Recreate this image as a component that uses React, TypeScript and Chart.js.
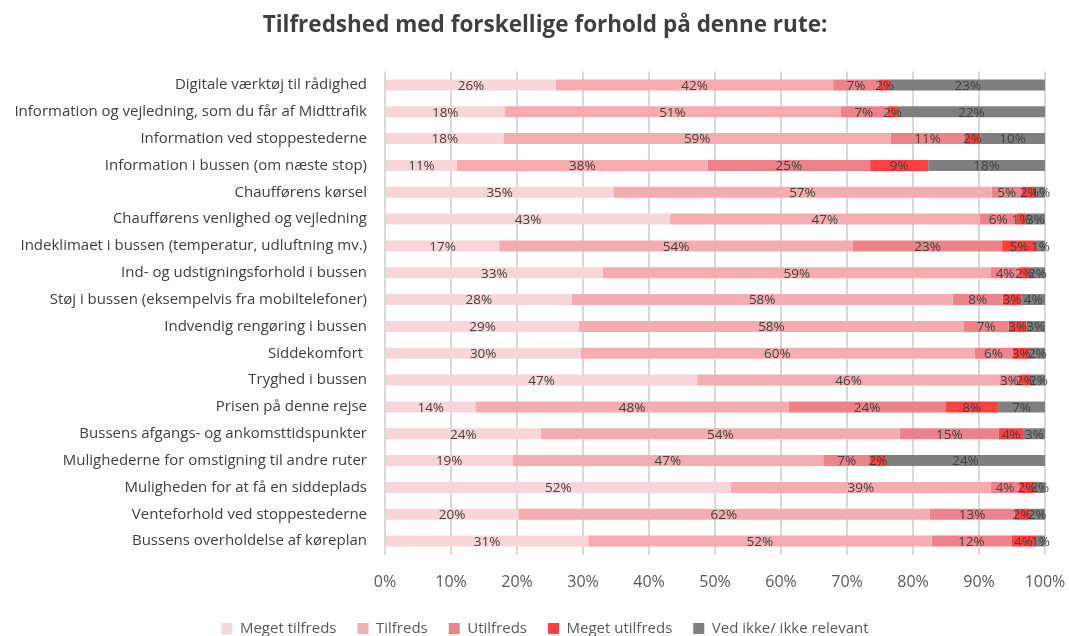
import React, { useEffect, useRef } from "react";
import { Chart, registerables } from "chart.js";

Chart.register(...registerables);

const FONT = '"Open Sans", "Noto Sans", sans-serif';

const titleText = "Tilfredshed med forskellige forhold på denne rute:";

const categories = [
  "Digitale værktøj til rådighed",
  "Information og vejledning, som du får af Midttrafik",
  "Information ved stoppestederne",
  "Information i bussen (om næste stop)",
  "Chaufførens kørsel",
  "Chaufførens venlighed og vejledning",
  "Indeklimaet i bussen (temperatur, udluftning mv.)",
  "Ind- og udstigningsforhold i bussen",
  "Støj i bussen (eksempelvis fra mobiltelefoner)",
  "Indvendig rengøring i bussen",
  "Siddekomfort ",
  "Tryghed i bussen",
  "Prisen på denne rejse",
  "Bussens afgangs- og ankomsttidspunkter",
  "Mulighederne for omstigning til andre ruter",
  "Muligheden for at få en siddeplads",
  "Venteforhold ved stoppestederne",
  "Bussens overholdelse af køreplan",
];

const seriesNames = [
  "Meget tilfreds",
  "Tilfreds",
  "Utilfreds",
  "Meget utilfreds",
  "Ved ikke/ ikke relevant",
];

const seriesColors = ["#F8D5D8", "#F3ADB1", "#EC838A", "#FF4042", "#7F7F7F"];

const megetTilfreds = [25.9, 18.1, 18.0, 10.9, 34.6, 43.2, 17.3, 33.0, 28.3, 29.4, 29.6, 47.3, 13.7, 23.6, 19.3, 52.4, 20.2, 30.8];
const tilfreds = [42.0, 50.9, 58.6, 38.0, 57.3, 46.9, 53.6, 58.8, 57.7, 58.3, 59.7, 45.9, 47.5, 54.4, 47.1, 39.4, 62.3, 52.0];
const utilfreds = [6.9, 7.1, 11.2, 24.6, 4.6, 5.6, 22.6, 4.3, 7.6, 6.8, 5.8, 2.8, 23.7, 15.0, 7.1, 4.3, 12.9, 12.1];
const megetUtilfreds = [1.8, 1.6, 2.4, 8.8, 2.2, 1.4, 5.1, 1.6, 2.8, 2.7, 2.6, 2.0, 8.0, 3.8, 2.4, 2.3, 2.2, 3.7];
const vedIkke = [23.4, 22.3, 9.8, 17.7, 1.3, 2.9, 1.4, 2.3, 3.6, 2.8, 2.3, 2.0, 7.1, 3.2, 24.1, 1.6, 2.4, 1.4];

const seriesValues = [megetTilfreds, tilfreds, utilfreds, megetUtilfreds, vedIkke];

const xMin = 0;
const xMax = 100;
const xStep = 10;

const segmentLabels = {
  id: "segmentLabels",
  afterDatasetsDraw(chart: any) {
    const ctx = chart.ctx;
    ctx.save();
    ctx.font = `13.5px ${FONT}`;
    ctx.fillStyle = "#404040";
    ctx.textAlign = "center";
    ctx.textBaseline = "middle";
    chart.data.datasets.forEach((ds: any, i: number) => {
      const meta = chart.getDatasetMeta(i);
      meta.data.forEach((el: any, j: number) => {
        const v = ds.data[j];
        const x = (el.x + el.base) / 2;
        ctx.fillText(Math.round(v) + "%", x, el.y + 1);
      });
    });
    ctx.restore();
  },
};

export default function App() {
  const ref = useRef<HTMLCanvasElement | null>(null);

  useEffect(() => {
    if (!ref.current) return;
    const chart = new Chart(ref.current, {
      type: "bar",
      data: {
        labels: categories,
        datasets: seriesNames.map((name, i) => ({
          label: name,
          data: seriesValues[i],
          backgroundColor: seriesColors[i],
          borderWidth: 0,
          categoryPercentage: 1,
          barPercentage: 0.41,
        })),
      },
      options: {
        indexAxis: "y",
        animation: false,
        responsive: true,
        maintainAspectRatio: false,
        layout: { padding: { left: 45, right: 24, top: 0, bottom: 0 } },
        plugins: {
          title: {
            display: true,
            text: titleText,
            color: "#404040",
            font: { family: FONT, size: 22.5, weight: "bold" },
            padding: { top: 12, bottom: 32.5 },
          },
          legend: {
            position: "bottom",
            labels: {
              boxWidth: 11,
              boxHeight: 11,
              padding: 21,
              color: "#595959",
              font: { family: FONT, size: 15 },
            },
          },
          tooltip: { enabled: false },
        },
        scales: {
          x: {
            stacked: true,
            min: xMin,
            max: xMax,
            ticks: {
              stepSize: xStep,
              callback: (v: any) => v + "%",
              color: "#595959",
              font: { family: FONT, size: 16 },
              padding: 18,
            },
            grid: { color: "#D9D9D9", lineWidth: 2, drawTicks: false },
            border: { display: false },
            afterFit: (s: any) => {
              s.height = 45.5;
              s.paddingLeft = 0;
              s.paddingRight = 0;
            },
          },
          y: {
            stacked: true,
            grid: { display: false, drawTicks: false },
            border: { display: false },
            ticks: {
              color: "#404040",
              font: { family: FONT, size: 15 },
              padding: 18,
              autoSkip: false,
            },
            afterFit: (s: any) => {
              s.width = 340;
              s._computeLabelArea = () => undefined;
            },
          },
        },
      },
      plugins: [segmentLabels],
    });
    return () => chart.destroy();
  }, []);

  return (
    <div style={{ position: "fixed", left: 0, top: 0, width: 1069, height: 646 }}>
      <canvas ref={ref} />
    </div>
  );
}
